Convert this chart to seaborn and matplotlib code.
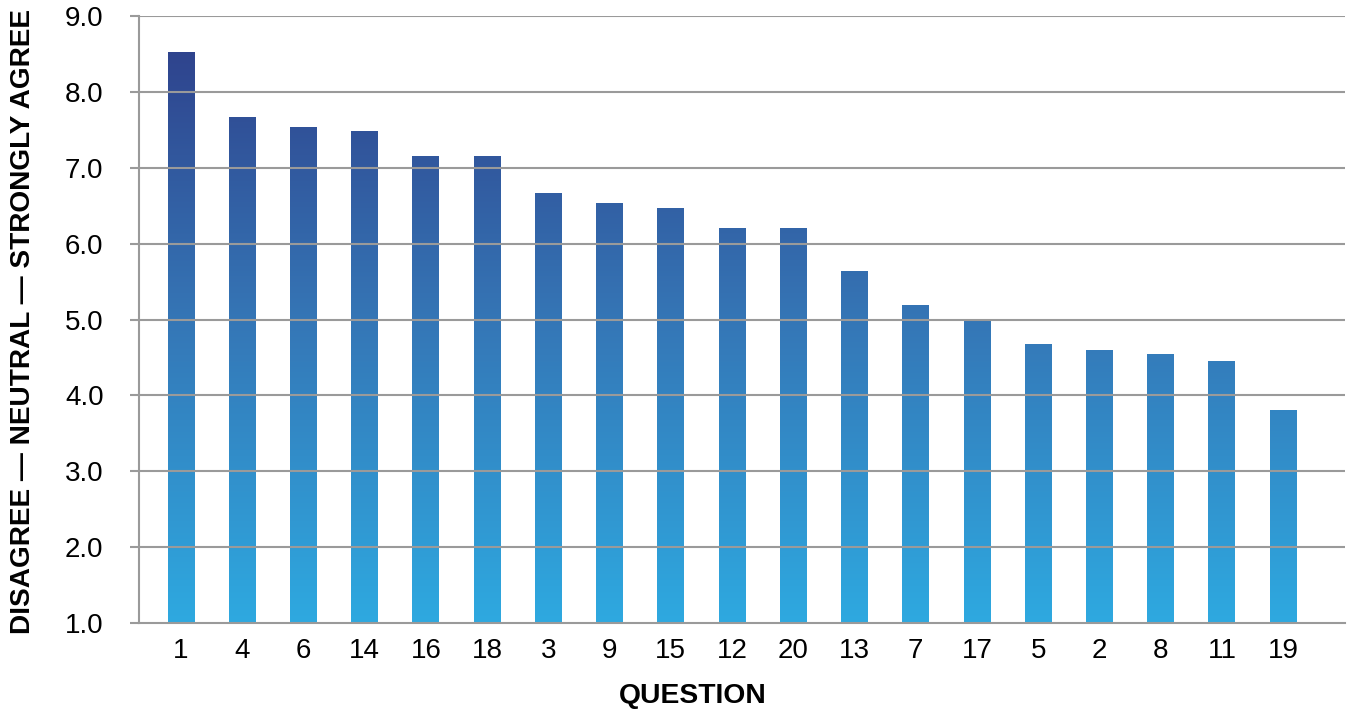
import numpy as np
import pandas as pd
import matplotlib
matplotlib.use("Agg")
import matplotlib.pyplot as plt
from matplotlib.colors import LinearSegmentedColormap
import seaborn as sns

# Mean agreement score per survey question, sorted high to low
questions = ["1", "4", "6", "14", "16", "18", "3", "9", "15", "12",
             "20", "13", "7", "17", "5", "2", "8", "11", "19"]
scores = [8.53, 7.67, 7.54, 7.48, 7.16, 7.16, 6.67, 6.54, 6.47, 6.21,
          6.21, 5.64, 5.19, 5.00, 4.68, 4.60, 4.55, 4.45, 3.81]
y_ticks = [1.0, 2.0, 3.0, 4.0, 5.0, 6.0, 7.0, 8.0, 9.0]
y_tick_labels = ["1.0", "2.0", "3.0", "4.0", "5.0", "6.0", "7.0", "8.0", "9.0"]

df = pd.DataFrame({"question": questions, "score": scores})

sns.set_theme(style="white")
plt.rcParams["font.family"] = ["Liberation Sans", "DejaVu Sans"]

fig = plt.figure(figsize=(13.47, 7.10), dpi=100)
ax = fig.add_axes([0.1032, 0.1225, 0.8953, 0.855])

y_min, y_max = 1.0, 9.0
sns.barplot(data=df, x="question", y="score", order=questions,
            width=0.44, color="#3a7fc0", ax=ax, zorder=2)

# Baseline of the scale is 1.0: bars start there
for p in ax.patches:
    top = p.get_y() + p.get_height()
    p.set_y(y_min)
    p.set_height(top - y_min)

ax.set_ylim(y_min, y_max)
ax.set_xlim(-0.686, len(questions) - 1 + 1.01)

# Vertical gradient shared by all bars: light cyan-blue at the bottom, navy at the top
cmap = LinearSegmentedColormap.from_list(
    "agree", ["#2ea9e0", "#3576b6", "#2e3d88"])
grad = np.linspace(0, 1, 512).reshape(-1, 1)
x0, x1 = ax.get_xlim()
for p in ax.patches:
    p.set_facecolor("none")
    p.set_edgecolor("none")
    im = ax.imshow(grad, cmap=cmap, origin="lower", aspect="auto",
                   extent=(x0, x1, y_min, y_max), zorder=2,
                   interpolation="bicubic")
    im.set_clip_path(p)
ax.set_xlim(x0, x1)
ax.set_ylim(y_min, y_max)

# Horizontal gridlines sit above the bars
grid_color = "#9a9a9a"
ax.set_yticks(y_ticks)
ax.set_yticklabels(y_tick_labels)
for yv in y_ticks[1:]:
    ax.axhline(yv, color=grid_color, lw=1.5, zorder=3)

for side in ["top", "right"]:
    ax.spines[side].set_visible(False)
for side in ["left", "bottom"]:
    ax.spines[side].set_color(grid_color)
    ax.spines[side].set_linewidth(1.5)
    ax.spines[side].set_zorder(4)

ax.tick_params(axis="y", direction="out", length=6.5, width=1.5,
               color=grid_color, pad=19, labelsize=20, labelcolor="#000000",
               left=True)
ax.tick_params(axis="x", length=0, pad=11, labelsize=20,
               labelcolor="#000000")

ax.set_xlabel("QUESTION", fontsize=20.3, fontweight="bold", color="#000000")
ax.set_ylabel("DISAGREE — NEUTRAL — STRONGLY AGREE", fontsize=20.2,
              fontweight="bold", color="#000000")
ax.xaxis.set_label_coords(0.459, -0.121)
ax.xaxis.label.set_va("center")
ax.yaxis.set_label_coords(-0.0962, 0.4975)
ax.yaxis.label.set_va("center")

fig.savefig("out.png", dpi=100, facecolor="white")
